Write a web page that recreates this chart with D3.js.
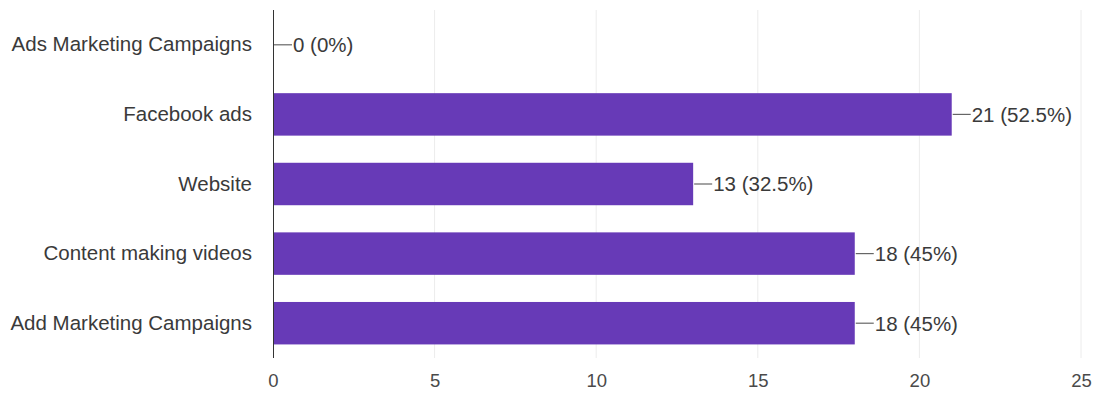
<!DOCTYPE html>
<html>
<head>
<meta charset="utf-8">
<script src="https://cdn.jsdelivr.net/npm/d3@7"></script>
<style>
  html, body { margin: 0; padding: 0; background: #fff; }
  svg { display: block; font-family: "Liberation Sans", Arial, sans-serif; }
</style>
</head>
<body>
<svg id="chart" width="1103" height="396"></svg>
<script>
// Survey responses per channel
const categories = ["Ads Marketing Campaigns", "Facebook ads", "Website", "Content making videos", "Add Marketing Campaigns"];
const counts = [0, 21, 13, 18, 18];
const percents = ["0%", "52.5%", "32.5%", "45%", "45%"];
const xTicks = [0, 5, 10, 15, 20, 25];

const svg = d3.select("#chart");
const margin = { top: 10, right: 22, bottom: 38, left: 273 };
const W = 1103, H = 396;
const innerW = W - margin.left - margin.right;
const innerH = H - margin.top - margin.bottom;

const g = svg.append("g").attr("transform", `translate(${margin.left},${margin.top})`);

const x = d3.scaleLinear().domain([0, 25]).range([0, innerW]);
const y = d3.scaleBand().domain(categories).range([0, innerH]).paddingInner(0.39).paddingOuter(0.195);

// Vertical gridlines
g.append("g")
  .selectAll("line")
  .data(xTicks.slice(1))
  .join("line")
  .attr("x1", d => x(d)).attr("x2", d => x(d))
  .attr("y1", 0).attr("y2", innerH)
  .attr("stroke", "#ececec").attr("stroke-width", 1);

// Bars
g.append("g")
  .selectAll("rect")
  .data(categories)
  .join("rect")
  .attr("x", x(0))
  .attr("y", d => y(d))
  .attr("width", (d, i) => x(counts[i]) - x(0))
  .attr("height", y.bandwidth())
  .attr("fill", "#673ab7");

// Value annotations with leader lines
const ann = g.append("g").selectAll("g").data(categories).join("g")
  .attr("transform", (d, i) => `translate(${x(counts[i])},${y(d) + y.bandwidth() / 2})`);
ann.append("line").attr("x1", 1).attr("x2", 19).attr("y1", 0).attr("y2", 0)
  .attr("stroke", "#666").attr("stroke-width", 1.2);
ann.append("text").attr("x", 20).attr("dy", "0.36em")
  .attr("font-size", 20.5).attr("fill", "#3a3a3a")
  .text((d, i) => `${counts[i]} (${percents[i]})`);

// Category axis
const yAxis = g.append("g").call(d3.axisLeft(y).tickSize(0).tickPadding(21));
yAxis.select(".domain").attr("stroke", "#333");
yAxis.selectAll("text").attr("font-size", 20.5).attr("fill", "#3a3a3a").attr("font-family", "Liberation Sans, Arial, sans-serif");
yAxis.select(".domain").attr("d", `M0.5,0V${innerH}`);

// Value axis
const xAxis = g.append("g").attr("transform", `translate(0,${innerH})`)
  .call(d3.axisBottom(x).tickValues(xTicks).tickSize(0).tickPadding(16));
xAxis.select(".domain").remove();
xAxis.selectAll("text").attr("font-size", 18.5).attr("fill", "#4a4a4a").attr("font-family", "Liberation Sans, Arial, sans-serif");
</script>
</body>
</html>
